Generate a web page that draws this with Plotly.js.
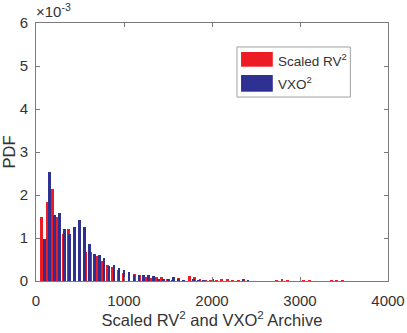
<!DOCTYPE html>
<html>
<head>
<meta charset="utf-8">
<script src="https://cdn.plot.ly/plotly-3.0.1.min.js"></script>
<style>html,body{margin:0;padding:0;background:#fff;}#chart{width:407px;height:333px;}</style>
</head>
<body>
<div id="chart"></div>
<script>
// Histogram bins (bin centres follow from first centre + bin width)
const redBinFirstCenter = 62.6;   // Scaled RV^2
const redBinWidth = 62.1;
const blueBinFirstCenter = 99;    // VXO^2
const blueBinWidth = 56.3;

// PDF values, in units of 1e-3
const redPdf = [1.48, 1.84, 2.14, 1.50, 1.10, 1.22, 0.93, 0.83, 0.68, 0.67,
                0.57, 0.47, 0.37, 0.33, 0.26, 0.18, 0.15, 0.16, 0.14, 0.09,
                0.07, 0.10, 0.10, 0.04, 0.03, 0.06, 0.02, 0.12, 0.09, 0.04,
                0.03, 0.02, 0.03, 0.04, 0.04, 0.03, 0.02, 0.04, 0, 0,
                0, 0, 0, 0.02, 0.04, 0.02, 0, 0, 0.02, 0.03,
                0, 0, 0, 0.02, 0.02, 0.03];
const bluePdf = [0.98, 2.53, 1.53, 1.57, 1.21, 1.09, 1.26, 1.42, 1.25, 0.85,
                 0.63, 0.60, 0.53, 0.36, 0.37, 0.30, 0.26, 0.22, 0.13, 0.14,
                 0.14, 0.14, 0.11, 0.05, 0.05, 0.04, 0.09, 0.05, 0.02, 0.01,
                 0.04, 0.02, 0.02, 0.01, 0.04, 0.01, 0, 0, 0, 0,
                 0.04, 0.02];

const seriesNames = ['Scaled RV<sup>2</sup>', 'VXO<sup>2</sup>'];
const xTicks = [0, 1000, 2000, 3000, 4000];
const yTicks = [0, 1, 2, 3, 4, 5, 6];

const SCALE = 1e-3;
const redX = redPdf.map((_, i) => redBinFirstCenter + i * redBinWidth);
const blueX = bluePdf.map((_, i) => blueBinFirstCenter + i * blueBinWidth);

const RED = '#ED1C24';
const BLUE = '#2E3192';
const FONT = 'Liberation Sans, Arial, Helvetica, sans-serif';
const TXT = '#333333';
const AX = '#7a7a7a';

const traces = [
  {type: 'bar', name: seriesNames[0], x: redX, y: redPdf.map(v => v * SCALE),
   width: redBinWidth * 0.53, marker: {color: RED, line: {width: 0}}, showlegend: false, hoverinfo: 'skip'},
  {type: 'bar', name: seriesNames[1], x: blueX, y: bluePdf.map(v => v * SCALE),
   width: blueBinWidth * 0.53, marker: {color: BLUE, line: {width: 0}}, showlegend: false, hoverinfo: 'skip'}
];

// legend geometry (paper coords)
const lg = {x0: 0.571, x1: 0.893, y0: 0.713, y1: 0.907};
const shapes = [
  {type: 'rect', xref: 'paper', yref: 'paper', x0: lg.x0, x1: lg.x1, y0: lg.y0, y1: lg.y1,
   line: {color: '#a0a0a0', width: 1}, fillcolor: '#ffffff', layer: 'above'},
  {type: 'rect', xref: 'paper', yref: 'paper', x0: 0.5825, x1: 0.6727, y0: 0.8306, y1: 0.8876,
   line: {width: 0}, fillcolor: RED, layer: 'above'},
  {type: 'rect', xref: 'paper', yref: 'paper', x0: 0.5825, x1: 0.6727, y0: 0.7337, y1: 0.7984,
   line: {width: 0}, fillcolor: BLUE, layer: 'above'}
];
const annotations = [
  {xref: 'paper', yref: 'paper', x: 0.682, y: 0.857, xanchor: 'left', yanchor: 'middle',
   text: seriesNames[0], showarrow: false, font: {family: FONT, size: 13.5, color: TXT}},
  {xref: 'paper', yref: 'paper', x: 0.682, y: 0.767, xanchor: 'left', yanchor: 'middle',
   text: seriesNames[1], showarrow: false, font: {family: FONT, size: 13.5, color: TXT}},
  {xref: 'paper', yref: 'paper', x: -0.002, y: 1.0, xanchor: 'left', yanchor: 'bottom', yshift: 2,
   text: '\u00d710<sup>-3</sup>', showarrow: false, font: {family: FONT, size: 15, color: TXT}, borderpad: 0}
];

const layout = {
  width: 407, height: 333,
  margin: {l: 36, r: 19, t: 23, b: 52, pad: 0},
  paper_bgcolor: '#ffffff', plot_bgcolor: '#ffffff',
  barmode: 'overlay', bargap: 0,
  showlegend: false,
  font: {family: FONT, color: TXT},
  xaxis: {
    range: [0, 4000], tickvals: xTicks, ticktext: xTicks.map(String),
    ticks: 'inside', ticklen: 4, tickcolor: AX, tickwidth: 1,
    showline: true, linecolor: AX, linewidth: 1, mirror: 'ticks',
    showgrid: false, zeroline: false,
    tickfont: {family: FONT, size: 15, color: TXT},
    ticklabelstandoff: 6,
    title: {text: 'Scaled RV<sup>2</sup> and VXO<sup>2</sup> Archive', font: {family: FONT, size: 16.5, color: TXT}, standoff: 3}
  },
  yaxis: {
    range: [0, 6 * SCALE], tickvals: yTicks.map(v => v * SCALE), ticktext: yTicks.map(String),
    ticks: 'inside', ticklen: 4, tickcolor: AX, tickwidth: 1,
    showline: true, linecolor: AX, linewidth: 1, mirror: 'ticks',
    showgrid: false, zeroline: false,
    tickfont: {family: FONT, size: 15, color: TXT},
    ticklabelstandoff: 4,
    title: {text: 'PDF', font: {family: FONT, size: 16.5, color: TXT}, standoff: 4}
  },
  shapes: shapes,
  annotations: annotations
};

Plotly.newPlot('chart', traces, layout, {displayModeBar: false, staticPlot: true});
</script>
</body>
</html>
